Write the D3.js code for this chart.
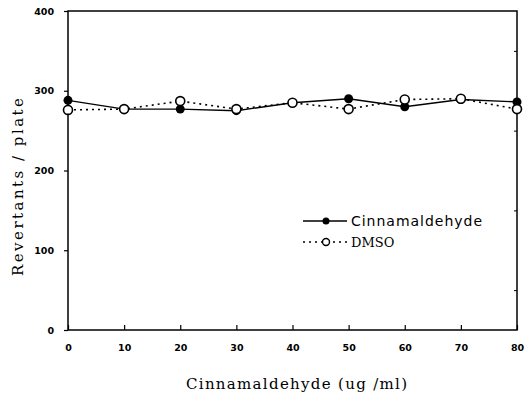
<!DOCTYPE html>
<html lang="en">
<head>
<meta charset="UTF-8">
<title>Revertants</title>
<script src="https://d3js.org/d3.v7.min.js"></script>
<style>
  body { margin: 0; background: #fff; }
</style>
</head>
<body>
<div id="chart"></div>
<script>
  // concentrations (ug/ml)
  const doses = [0, 10, 20, 30, 40, 50, 60, 70, 80];
  // revertants per plate
  const cinnamaldehyde = [288, 277, 277, 275, 285, 290, 280, 289, 286];
  const dmso = [276, 277, 287, 277, 285, 277, 289, 290, 277];
  const xTicks = [0, 10, 20, 30, 40, 50, 60, 70, 80];
  const yTicks = [0, 100, 200, 300, 400];

  const W = 525, H = 394;
  const margin = { top: 11, right: 8, bottom: 64, left: 68 };
  const width = W - margin.left - margin.right;
  const height = H - margin.top - margin.bottom;

  const x = d3.scaleLinear().domain([0, 80]).range([0, width]);
  const y = d3.scaleLinear().domain([0, 400]).range([height, 0]);

  const svg = d3.select("#chart").append("svg")
    .attr("width", W).attr("height", H)
    .append("g")
    .attr("transform", "translate(" + margin.left + "," + margin.top + ")");

  // frame
  svg.append("rect")
    .attr("width", width).attr("height", height)
    .attr("fill", "none").attr("stroke", "#000").attr("stroke-width", 1.5);

  const xAxis = svg.append("g")
    .attr("transform", "translate(0," + height + ")")
    .call(d3.axisBottom(x).tickValues(xTicks).tickSize(-5).tickPadding(14));
  const yAxis = svg.append("g")
    .call(d3.axisLeft(y).tickValues(yTicks).tickSize(4).tickPadding(10));

  [xAxis, yAxis].forEach(a => {
    a.select(".domain").remove();
    a.selectAll("line").attr("stroke", "#000").attr("stroke-width", 1.2);
    a.selectAll("text")
      .attr("font-family", "'DejaVu Sans', sans-serif")
      .attr("font-weight", "bold")
      .attr("font-size", 9.5)
      .attr("fill", "#000");
  });

  // small inward ticks on the right side
  svg.append("g")
    .attr("transform", "translate(" + width + ",0)")
    .call(d3.axisRight(y).tickValues([50, 150, 250, 350]).tickSize(-3).tickFormat(""))
    .call(g => g.select(".domain").remove())
    .selectAll("line").attr("stroke", "#000");

  const line = d3.line()
    .x((d, i) => x(doses[i]))
    .y(d => y(d));

  svg.append("path").datum(dmso)
    .attr("fill", "none").attr("stroke", "#000")
    .attr("stroke-width", 1.6).attr("stroke-dasharray", "2,4")
    .attr("d", line);

  svg.append("path").datum(cinnamaldehyde)
    .attr("fill", "none").attr("stroke", "#000")
    .attr("stroke-width", 1.4)
    .attr("d", line);

  svg.selectAll(".cin").data(cinnamaldehyde).enter().append("circle")
    .attr("cx", (d, i) => x(doses[i])).attr("cy", d => y(d))
    .attr("r", 4.5).attr("fill", "#000");

  svg.selectAll(".dmso").data(dmso).enter().append("circle")
    .attr("cx", (d, i) => x(doses[i])).attr("cy", d => y(d))
    .attr("r", 4.5).attr("fill", "#fff").attr("stroke", "#000").attr("stroke-width", 1.6);

  // axis titles
  svg.append("text")
    .attr("x", width / 2 + 4).attr("y", height + 59)
    .attr("text-anchor", "middle")
    .attr("font-family", "'DejaVu Serif', serif")
    .attr("font-size", 15)
    .attr("textLength", 221).attr("lengthAdjust", "spacing")
    .text("Cinnamaldehyde (ug /ml)");

  svg.append("text")
    .attr("transform", "translate(" + (-45) + "," + (176) + ") rotate(-90)")
    .attr("text-anchor", "middle")
    .attr("font-family", "'DejaVu Serif', serif")
    .attr("font-size", 15)
    .attr("textLength", 178).attr("lengthAdjust", "spacing")
    .text("Revertants / plate");

  // legend
  const legend = svg.append("g").attr("transform", "translate(235,210)");
  legend.append("line").attr("x1", 0).attr("x2", 44).attr("y1", 0).attr("y2", 0)
    .attr("stroke", "#000").attr("stroke-width", 1.4);
  legend.append("circle").attr("cx", 23).attr("cy", 0).attr("r", 3.5).attr("fill", "#000");
  legend.append("text").attr("x", 48).attr("y", 5)
    .attr("font-family", "'DejaVu Sans', sans-serif")
    .attr("font-size", 14)
    .attr("textLength", 131).attr("lengthAdjust", "spacing")
    .text("Cinnamaldehyde");

  legend.append("line").attr("x1", 0).attr("x2", 44).attr("y1", 21).attr("y2", 21)
    .attr("stroke", "#000").attr("stroke-width", 1.6).attr("stroke-dasharray", "2,4");
  legend.append("circle").attr("cx", 23).attr("cy", 21).attr("r", 3.5)
    .attr("fill", "#fff").attr("stroke", "#000").attr("stroke-width", 1.4);
  legend.append("text").attr("x", 48).attr("y", 26)
    .attr("font-family", "'DejaVu Serif', serif")
    .attr("font-size", 13).text("DMSO");
</script>
</body>
</html>
